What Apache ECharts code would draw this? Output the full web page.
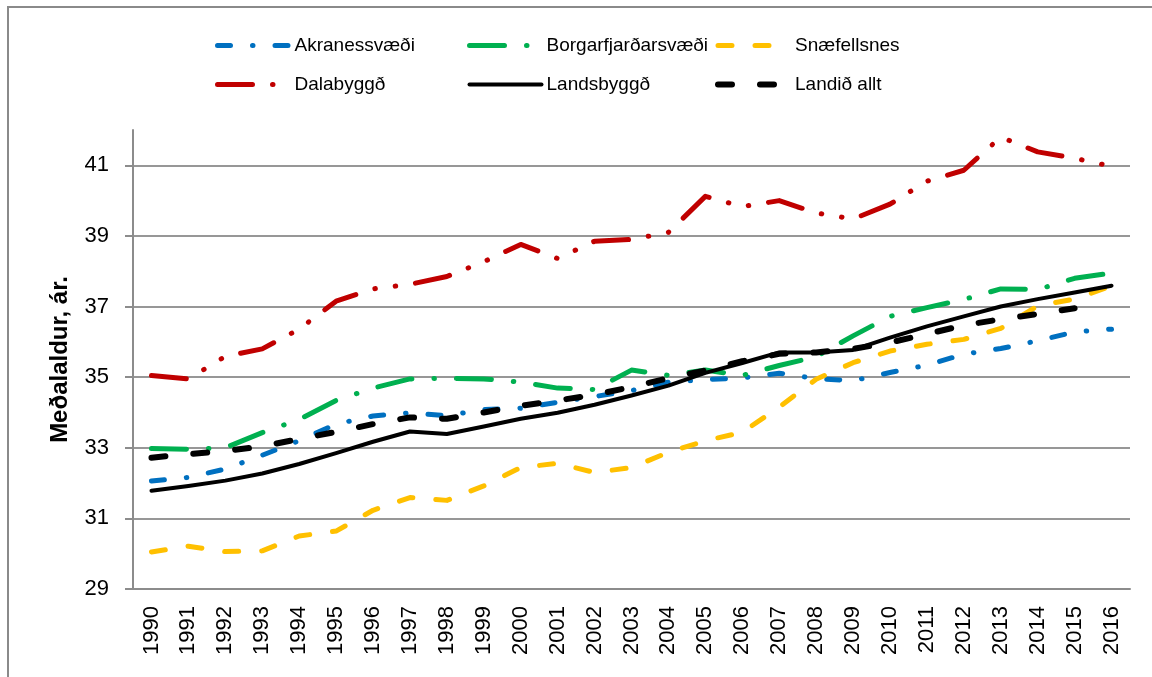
<!DOCTYPE html>
<html>
<head>
<meta charset="utf-8">
<script src="https://cdn.jsdelivr.net/npm/echarts@6/dist/echarts.min.js"></script>
<style>
  html, body { margin: 0; padding: 0; background: #fff; overflow: hidden; }
  #frame {
    position: absolute; left: 7px; top: 6px; width: 1200px; height: 720px;
    border-left: 2px solid #8a8a8a; border-top: 2px solid #8a8a8a;
  }
  #chart { position: absolute; left: 0; top: 0; width: 1152px; height: 677px; }
</style>
</head>
<body>
<div id="frame"></div>
<div id="chart"></div>
<script>
const years = [
  "1990", "1991", "1992", "1993", "1994", "1995", "1996", "1997", "1998",
  "1999", "2000", "2001", "2002", "2003", "2004", "2005", "2006", "2007",
  "2008", "2009", "2010", "2011", "2012", "2013", "2014", "2015", "2016",
];

const akranes = [32.06, 32.16, 32.4, 32.79, 33.2, 33.67, 33.9, 33.99, 33.91, 34.08, 34.12, 34.29, 34.45, 34.62, 34.86, 34.93, 34.98, 35.11, 34.96, 34.9, 35.13, 35.34, 35.65, 35.81, 36.03, 36.28, 36.36];
const borgarfjordur = [32.98, 32.96, 33.0, 33.43, 33.8, 34.34, 34.69, 34.95, 34.97, 34.95, 34.86, 34.69, 34.65, 35.2, 35.05, 35.2, 35.05, 35.33, 35.58, 36.17, 36.72, 36.97, 37.2, 37.5, 37.48, 37.8, 37.95];
const snaefellsnes = [30.05, 30.21, 30.06, 30.08, 30.5, 30.64, 31.23, 31.59, 31.51, 31.92, 32.44, 32.56, 32.3, 32.44, 32.87, 33.2, 33.44, 34.15, 34.94, 35.41, 35.74, 35.93, 36.07, 36.38, 37.02, 37.21, 37.59];
const dalabyggd = [35.05, 34.95, 35.59, 35.8, 36.36, 37.15, 37.5, 37.63, 37.85, 38.27, 38.76, 38.36, 38.85, 38.9, 39.1, 40.12, 39.83, 40.0, 39.65, 39.48, 39.9, 40.55, 40.86, 41.8, 41.38, 41.2, 40.97];
const landsbyggd = [31.78, 31.92, 32.07, 32.27, 32.54, 32.85, 33.17, 33.46, 33.39, 33.6, 33.82, 33.99, 34.22, 34.48, 34.76, 35.12, 35.4, 35.7, 35.7, 35.77, 36.12, 36.44, 36.72, 37.0, 37.21, 37.4, 37.59];
const landidAllt = [32.72, 32.82, 32.91, 33.04, 33.25, 33.45, 33.67, 33.86, 33.82, 34.0, 34.19, 34.34, 34.5, 34.72, 34.97, 35.19, 35.45, 35.66, 35.7, 35.8, 35.98, 36.22, 36.47, 36.64, 36.79, 36.95, null];

const yTicks = [29, 31, 33, 35, 37, 39, 41];

const FONT = "Liberation Sans, Arial, sans-serif";

const chart = echarts.init(document.getElementById("chart"));

// one line series, Excel-like dashes with round caps
const makeLine = (name, data, color, width, dash) => ({
  name,
  type: "line",
  data,
  symbol: "none",
  connectNulls: false,
  lineStyle: { color, width, type: dash, cap: "round", join: "round" },
  itemStyle: { color },
});

const legendBase = {
  orient: "vertical",
  top: 36,
  padding: 0,
  itemWidth: 72,
  itemHeight: 20,
  itemGap: 20,
  selectedMode: false,
  itemStyle: { opacity: 0 }, // hide the circle, keep the dashed line
  lineStyle: { width: "inherit" },
  textStyle: { fontFamily: FONT, fontSize: 19, color: "#000" },
};

const option = {
  animation: false,
  backgroundColor: "transparent",
  legend: [
    { ...legendBase, left: 215, data: ["Akranessvæði", "Dalabyggð"] },
    { ...legendBase, left: 467, data: ["Borgarfjarðarsvæði", "Landsbyggð"] },
    { ...legendBase, left: 715, data: ["Snæfellsnes", "Landið allt"] },
  ],
  grid: { left: 133, right: 22, top: 130, bottom: 88, containLabel: false },
  xAxis: {
    type: "category",
    data: years,
    boundaryGap: true,
    axisLine: { lineStyle: { color: "#8c8c8c", width: 2 } },
    axisTick: { length: 8, lineStyle: { color: "#8c8c8c", width: 2 } },
    axisLabel: {
      interval: 0,
      rotate: 90,
      margin: 17,
      color: "#000",
      fontFamily: FONT,
      fontSize: 22,
    },
  },
  yAxis: {
    type: "value",
    min: 29,
    max: 42,
    interval: 2,
    name: "Meðalaldur, ár.",
    nameLocation: "middle",
    nameRotate: 90,
    nameGap: 61,
    nameTextStyle: { fontFamily: FONT, fontSize: 24, fontWeight: "bold", color: "#000" },
    axisLine: { show: true, lineStyle: { color: "#8c8c8c", width: 2 } },
    axisTick: { show: true, length: 8, customValues: yTicks, lineStyle: { color: "#8c8c8c", width: 2 } },
    axisLabel: {
      customValues: yTicks,
      margin: 24,
      color: "#000",
      fontFamily: FONT,
      fontSize: 22,
    },
    splitLine: { show: true, lineStyle: { color: "#979797", width: 2 } },
  },
  series: [
    makeLine("Akranessvæði", akranes, "#0070C0", 5, [13, 22, 0.5, 22]),
    makeLine("Borgarfjarðarsvæði", borgarfjordur, "#00B050", 5, [35, 22, 0.5, 22]),
    makeLine("Snæfellsnes", snaefellsnes, "#FFC000", 5, [14, 23]),
    makeLine("Dalabyggð", dalabyggd, "#C00000", 5, [35, 20, 0.5, 20, 0.5, 20]),
    makeLine("Landsbyggð", landsbyggd, "#000000", 4, "solid"),
    makeLine("Landið allt", landidAllt, "#000000", 6, [14, 28]),
  ],
};

chart.setOption(option);
</script>
</body>
</html>
